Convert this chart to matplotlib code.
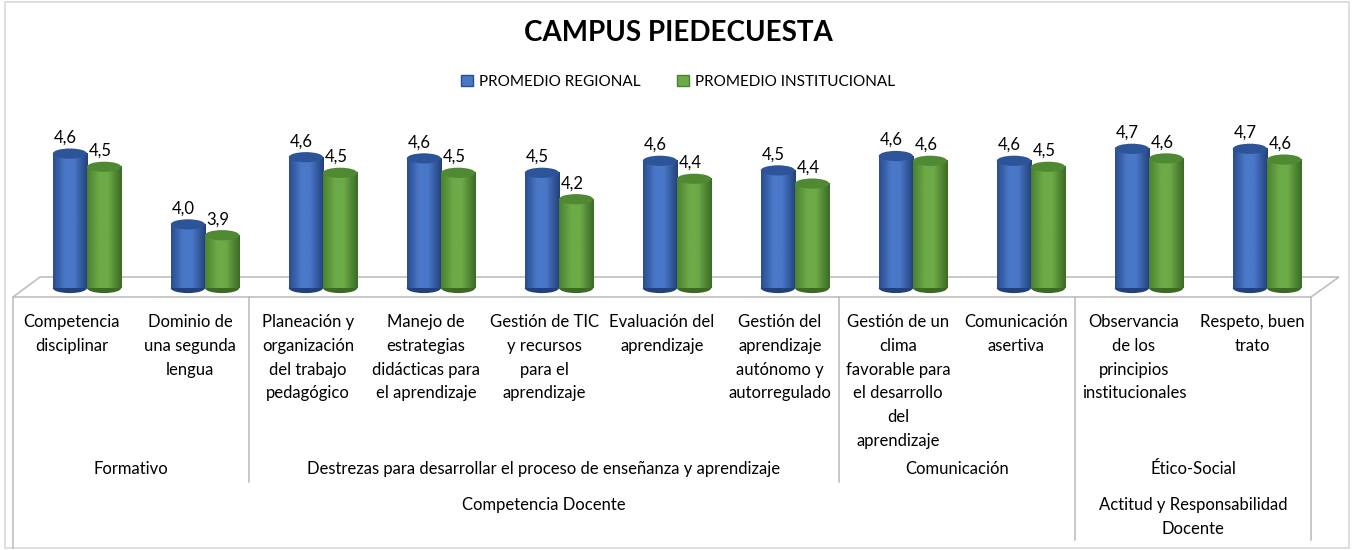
import numpy as np
import matplotlib
matplotlib.use('Agg')
import matplotlib.pyplot as plt
from matplotlib.patches import Ellipse, Polygon, Rectangle, Patch
from matplotlib.colors import LinearSegmentedColormap

plt.rcParams['font.family'] = ['Lato', 'DejaVu Sans']

# datos
categorias = ['Competencia\ndisciplinar', 'Dominio de\nuna segunda\nlengua',
              'Planeación y\norganización\ndel trabajo\npedagógico',
              'Manejo de\nestrategias\ndidácticas para\nel aprendizaje',
              'Gestión de TIC\ny recursos\npara el\naprendizaje',
              'Evaluación del\naprendizaje',
              'Gestión del\naprendizaje\nautónomo y\nautorregulado',
              'Gestión de un\nclima\nfavorable para\nel desarrollo\ndel\naprendizaje',
              'Comunicación\nasertiva',
              'Observancia\nde los\nprincipios\ninstitucionales',
              'Respeto, buen\ntrato']
regional = [4.62, 4.03, 4.59, 4.58, 4.46, 4.56, 4.48, 4.60, 4.56, 4.66, 4.66]
institucional = [4.51, 3.94, 4.46, 4.46, 4.24, 4.41, 4.37, 4.56, 4.51, 4.58, 4.57]
nivel2 = [('Formativo', 0, 2),
          ('Destrezas para desarrollar el proceso de enseñanza y aprendizaje', 2, 7),
          ('Comunicación', 7, 9),
          ('Ético-Social', 9, 11)]
nivel3 = [('Competencia Docente', 0, 9),
          ('Actitud y Responsabilidad\nDocente', 9, 11)]
series = ['PROMEDIO REGIONAL', 'PROMEDIO INSTITUCIONAL']

W, H = 1356, 550
fig = plt.figure(figsize=(W / 100, H / 100), dpi=100)
fig.patch.set_facecolor('white')

# fondo en pixeles
bg = fig.add_axes([0, 0, 1, 1], zorder=0)
bg.set_xlim(0, W)
bg.set_ylim(H, 0)
bg.axis('off')

x0, paso = 13, 118
n = len(categorias)
grid = '#BFBFBF'
fs = 12

bg.add_patch(Rectangle((5, 2), 1344, 546, fill=False, ec='#D9D9D9', lw=1.2))
bg.add_patch(Polygon([(x0, 297), (x0 + n * paso, 297), (x0 + n * paso + 28, 277), (x0 + 27, 277)],
                     closed=True, fc='white', ec=grid, lw=1.2))

# tabla de etiquetas
bordes = {0: 548, n: 540}
for _, a, b in nivel2:
    for k in (a, b):
        bordes.setdefault(k, 482)
for _, a, b in nivel3:
    for k in (a, b):
        if k not in (0, n):
            bordes[k] = 540
for k, yb in bordes.items():
    bg.plot([x0 + k * paso] * 2, [297, yb], color=grid, lw=1.2)

for i, c in enumerate(categorias):
    bg.text(x0 + (i + 0.5) * paso, 314, c, ha='center', va='top', fontsize=fs,
            linespacing=1.6, color='#000000')
for t, a, b in nivel2:
    bg.text(x0 + (a + b) / 2 * paso, 469, t, ha='center', va='center', fontsize=fs)
for t, a, b in nivel3:
    bg.text(x0 + (a + b) / 2 * paso, 497, t, ha='center', va='top', fontsize=fs,
            linespacing=1.6)

bg.text(W / 2, 33, 'CAMPUS PIEDECUESTA', ha='center', va='center', fontsize=20,
        fontweight='bold')

# barras (cilindros)
ymin, ymax = 3.5, 5.0
ax = fig.add_axes([(x0 + 15) / W, 1 - 288 / H, n * paso / W, 180 / H], zorder=1)
ax.patch.set_alpha(0)
ax.axis('off')

colores = [
    {'izq': '#2A4D8F', 'luz': '#4A78C8', 'der': '#22417A', 'tapa': '#2D5499'},
    {'izq': '#4B8230', 'luz': '#6DAA48', 'der': '#3C6A25', 'tapa': '#4F8A33'},
]

def cmap_cil(c):
    return LinearSegmentedColormap.from_list('c', [(0, c['izq']), (0.35, c['luz']),
                                                   (0.6, c['luz']), (1, c['der'])])

bw = 0.29
eh = 0.085
for s, vals in enumerate([regional, institucional]):
    col = colores[s]
    cm = cmap_cil(col)
    grad = np.linspace(0, 1, 64).reshape(1, -1)
    for i, v in enumerate(vals):
        cx = i + (s - 0.5) * bw
        ax.add_patch(Ellipse((cx, ymin), bw, eh, fc=col['der'], ec='none',
                             zorder=2 + s * 0.1, clip_on=False))
        ax.imshow(grad, cmap=cm, aspect='auto', extent=(cx - bw / 2, cx + bw / 2, ymin, v),
                  zorder=2 + s * 0.1 + 0.01, interpolation='bilinear')
        ax.add_patch(Ellipse((cx, v), bw, eh, fc=col['tapa'], ec='none',
                             zorder=2 + s * 0.1 + 0.02, clip_on=False))
        ax.annotate(f'{v:.1f}'.replace('.', ','), (cx, v + eh / 2), xytext=(-3, 2),
                    textcoords='offset points', ha='center', va='bottom', fontsize=12,
                    zorder=5)

ax.set_xlim(-0.5, n - 0.5)
ax.set_ylim(ymin, ymax)

handles = [Patch(fc=colores[0]['luz'], ec=colores[0]['izq']),
           Patch(fc=colores[1]['luz'], ec=colores[1]['izq'])]
bg.legend(handles, series, loc='center', bbox_to_anchor=(0.5, 1 - 82 / H), ncol=2,
          frameon=False, fontsize=11, handlelength=0.75, handleheight=0.75,
          handletextpad=0.4, columnspacing=2.4)

fig.savefig('out.png', dpi=100, facecolor='white')
